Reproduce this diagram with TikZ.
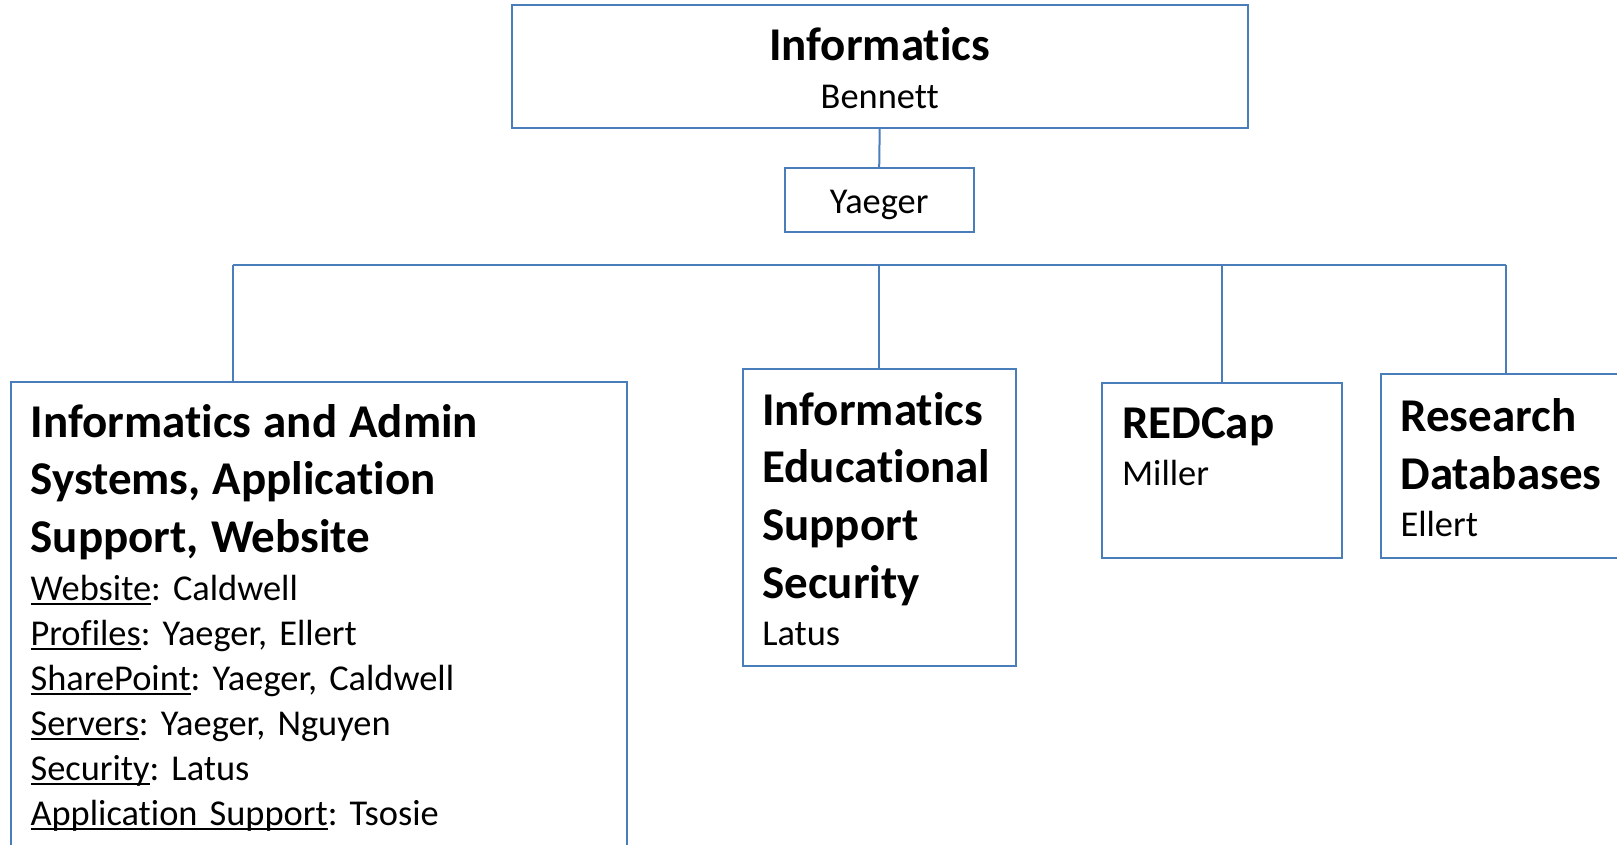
\documentclass[tikz,border=0pt]{standalone}
\usepackage{fontspec}
\setmainfont[Ligatures=NoCommon]{Carlito}
\frenchspacing
\definecolor{boxblue}{RGB}{74,126,187}
\newcommand{\unitfont}{\fontsize{47}{57.75}\selectfont\bfseries}
\newcommand{\personfont}{\fontsize{36.4}{45}\selectfont}
\newcommand{\uln}[1]{\leavevmode\setbox0\hbox{#1}\rlap{\rule[-4.5pt]{\wd0}{2pt}}\box0}
\begin{document}
\begin{tikzpicture}[x=1pt,y=1pt]
	\tikzstyle{every node}+=[inner sep=0pt]
	\tikzstyle{unit}=[draw=boxblue, line width=2pt, rectangle]
	\tikzstyle{unittext}=[anchor=base west, align=left, font=\personfont]
	\tikzstyle{link}=[draw=boxblue, line width=2pt]
	\useasboundingbox (0,0) rectangle (1617,-845);
	\clip (0,0) rectangle (1617,-845);
	\node [unit, minimum width=736.3, minimum height=122.7, align=center, font=\personfont] (inf) at (879.7,-66.5) {\rule{0pt}{37pt}{\unitfont Informatics}\\[3pt]Bennett};
	\node [unit, minimum width=188.7, minimum height=63.9, font=\personfont] (yae) at (879.2,-200.1) {\rule{0pt}{33pt}Yaeger};
	\node [unit, minimum width=615.7, minimum height=518.4] (adm) at (319.2,-640.8) {};
	\node [unit, minimum width=273.3, minimum height=297] (edu) at (879.2,-517.7) {};
	\node [unit, minimum width=239.3, minimum height=175.3] (redcap) at (1222,-470.3) {};
	\node [unit, minimum width=259.2, minimum height=183.6] (resdb) at (1510.4,-466.1) {};
	\node [unittext, text width=590] (admtxt) at ([shift={(20,-56.5)}]adm.north west) {{\unitfont Informatics and Admin\\Systems, Application\\Support, Website\par}\vskip3pt
		\uln{Website}: Caldwell\\\uln{Profiles}: Yaeger, Ellert\\\uln{SharePoint}: Yaeger, Caldwell\\\uln{Servers}: Yaeger, Nguyen\\\uln{Security}: Latus\\\uln{Application Support}: Tsosie};
	\node [unittext, text width=250] (edutxt) at ([shift={(20.5,-57)}]edu.north west) {{\unitfont Informatics\\Educational\\Support\\Security\par}\vskip2pt Latus};
	\node [unittext, text width=215] (redcaptxt) at ([shift={(20.5,-57)}]redcap.north west) {{\unitfont REDCap\par}\vskip2pt Miller};
	\node [unittext, text width=235] (resdbtxt) at ([shift={(20.5,-58)}]resdb.north west) {{\unitfont Research\\Databases\par}\vskip2pt Ellert};
	\coordinate (busl) at (233,-264.5);
	\coordinate (busr) at (1505.6,-264.5);
	\draw [link] (inf.south) -- (yae.north);
	\draw [link] (busl) -- (busr);
	\draw [link] (busl) -- (busl |- adm.north);
	\draw [link] (edu.north |- busl) -- (edu.north);
	\draw [link] (redcap.north |- busl) -- (redcap.north);
	\draw [link] (busr) -- (busr |- resdb.north);
\end{tikzpicture}
\end{document}
